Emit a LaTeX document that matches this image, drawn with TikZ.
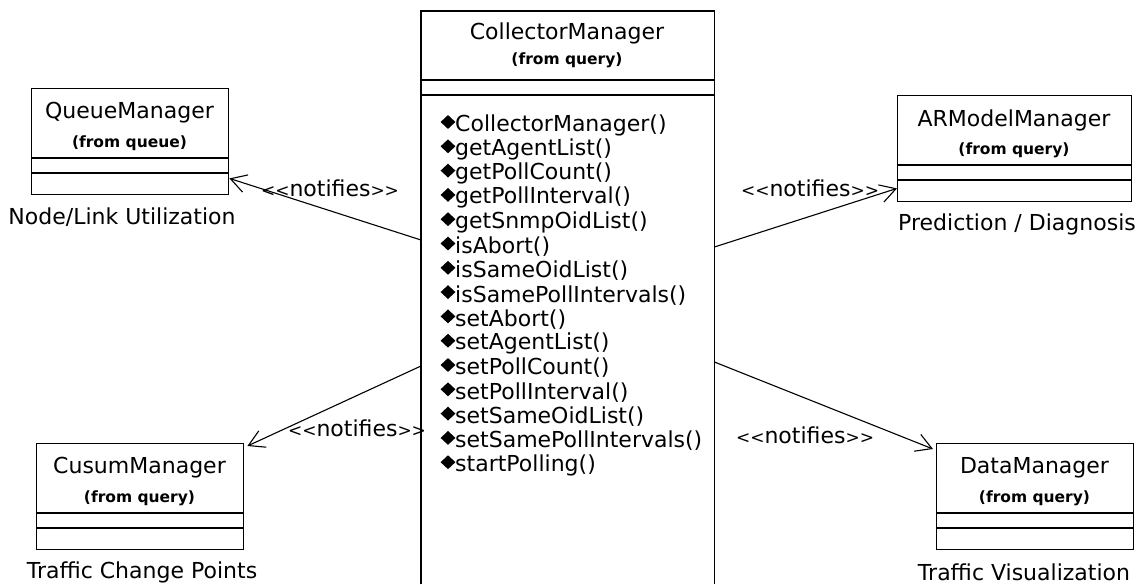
\documentclass[tikz,border=0pt]{standalone}
\usepackage{fontspec}
\setmainfont{DejaVu Sans}
\usetikzlibrary{shapes.geometric, arrows.meta, positioning}
\tikzstyle{umlbox} = [draw, line width=1.4pt, inner sep=0pt, anchor=north west]
\tikzstyle{title} = [font=\fontsize{22}{24}\selectfont, inner sep=0pt]
\tikzstyle{pkg} = [font=\fontsize{15.5}{17}\selectfont\bfseries, inner sep=0pt]
\tikzstyle{role} = [font=\fontsize{22}{24}\selectfont, inner sep=0pt]
\tikzstyle{oper} = [font=\fontsize{22}{24}\selectfont, inner sep=0pt, anchor=west]
\tikzstyle{bullet} = [diamond, fill=black, inner sep=0pt, minimum width=15pt, minimum height=14pt]
\tikzstyle{stereo} = [font=\fontsize{22}{24}\selectfont, inner sep=0pt]
\tikzstyle{arrow} = [line width=1.1pt, -{Straight Barb[angle=60:18pt]}]
\newcommand{\notif}{{\fontsize{17}{17}\selectfont<\kern0pt<}notifies{\fontsize{17}{17}\selectfont>\kern0pt>}}

\begin{document}
\begin{tikzpicture}[x=1pt, y=-1pt]
\useasboundingbox (0,0) rectangle (1142,584);

% central class, cut off at the bottom
\node[anchor=north west, minimum width=293pt, minimum height=573pt, inner sep=0pt] (cmbox) at (421,11) {};
\draw[line width=1.4pt] (cmbox.south west) |- (cmbox.north east) -- (cmbox.south east);
\draw[line width=1.4pt] (421,80) -- (714,80);
\draw[line width=1.4pt] (421,95) -- (714,95);
\node[title] (cmname) at (567,33) {CollectorManager};
\node[pkg] (cmpkg) at (567,60) {(from query)};

\foreach \m [count=\i from 0] in {CollectorManager(), getAgentList(), getPollCount(),
  getPollInterval(), getSnmpOidList(), isAbort(), isSameOidList(), isSamePollIntervals(),
  setAbort(), setAgentList(), setPollCount(), setPollInterval(), setSameOidList(),
  setSamePollIntervals(), startPolling()}
{
 \pgfmathsetmacro\yy{125+24.3*\i}
 \node[bullet] (d\i) at (448,\yy-3) {};
 \node[oper] (m\i) at (455,\yy) {\m};
}

% the four listeners
\foreach \nm/\x/\y/\w/\lx/\cls/\pk/\role in {
  qm/31/88/197/122/QueueManager/queue/{Node/Link Utilization},
  am/897/95/234/1017/ARModelManager/query/{Prediction / Diagnosis},
  cu/36/443/207/142/CusumManager/query/{Traffic Change Points},
  dm/936/443/197/1024/DataManager/query/{Traffic Visualization}}
{
 \node[umlbox, minimum width=\w pt, minimum height=106pt] (\nm) at (\x,\y) {};
 \draw[line width=1.4pt] (\x,\y+70) -- (\x+\w,\y+70);
 \draw[line width=1.4pt] (\x,\y+85) -- (\x+\w,\y+85);
 \node[title] (\nm-name) at (\x+\w/2,\y+25) {\cls};
 \node[pkg] (\nm-pkg) at (\x+\w/2,\y+55) {(from \pk)};
 \node[role] (\nm-role) at (\lx,\y+129) {\role};
}

\coordinate (s1) at ([yshift=-229pt]cmbox.north west);
\coordinate (s2) at ([yshift=-236pt]cmbox.north east);
\coordinate (s3) at ([yshift=-355pt]cmbox.north west);
\coordinate (s4) at ([yshift=-351pt]cmbox.north east);

\draw[arrow] (s1) -- ([yshift=17pt]qm.south east);
\draw[arrow] (s2) -- ([yshift=14pt]am.south west);
\draw[arrow] (s3) -- ([xshift=3pt,yshift=-3pt]cu.north east);
\draw[arrow] (s4) -- ([xshift=-3pt,yshift=-6pt]dm.north west);

\node[stereo] (n1) at (330,188) {\notif};
\node[stereo] (n2) at (810,188) {\notif};
\node[stereo] (n3) at (357,428) {\notif};
\node[stereo] (n4) at (805,435) {\notif};

\end{tikzpicture}
\end{document}
